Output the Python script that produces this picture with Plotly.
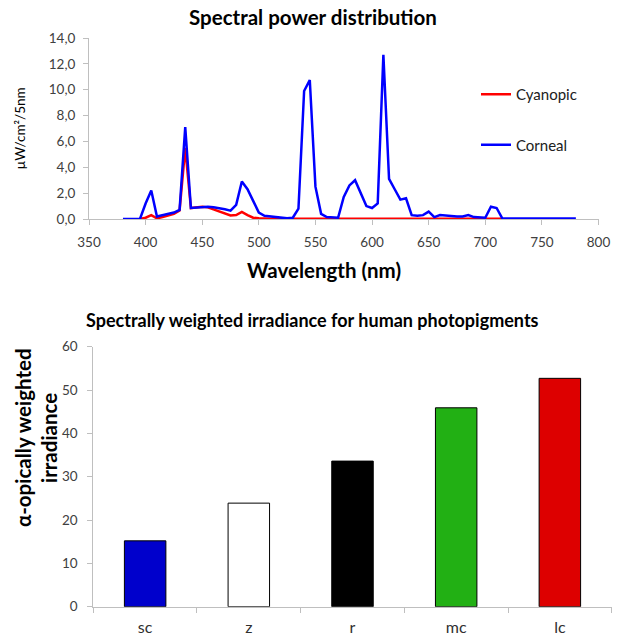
import plotly.graph_objects as go

# ---- Data ----
wavelength_corneal = list(range(380, 785, 5))
corneal = [0.0, 0.0, 0.0, 0.0, 1.2, 2.2, 0.2, 0.3, 0.35, 0.5, 0.7, 7.1,
           0.85, 0.9, 0.95, 0.95, 0.9, 0.85, 0.75, 0.65, 1.1, 2.9, 2.3, 1.4,
           0.5, 0.25, 0.2, 0.15, 0.1, 0.05, 0.1, 0.8, 9.9, 10.75, 2.5, 0.4,
           0.15, 0.1, 0.1, 1.7, 2.6, 3.0, 2.0, 1.0, 0.85, 1.2, 12.7, 3.1,
           2.3, 1.5, 1.6, 0.3, 0.25, 0.3, 0.57, 0.15, 0.3, 0.25, 0.2, 0.2,
           0.2, 0.3, 0.15, 0.1, 0.1, 0.95, 0.85, 0.05, 0.03, 0.03, 0.03, 0.03,
           0.03, 0.03, 0.03, 0.03, 0.03, 0.03, 0.03, 0.03, 0.03]
wavelength_cyanopic = list(range(395, 720, 5))
cyanopic = [0.0, 0.1, 0.3, 0.05, 0.15, 0.25, 0.4, 0.65, 5.5, 0.85, 0.9,
            0.95, 0.9, 0.75, 0.55, 0.4, 0.28, 0.3, 0.55, 0.3, 0.1, 0.05,
            0.02, 0.02, 0.02, 0.02, 0.02, 0.02, 0.02, 0.02, 0.02, 0.02, 0.02,
            0.02, 0.02, 0.02, 0.02, 0.02, 0.02, 0.02, 0.02, 0.02, 0.02, 0.02,
            0.02, 0.02, 0.02, 0.02, 0.02, 0.02, 0.02, 0.02, 0.02, 0.02, 0.02,
            0.02, 0.02, 0.02, 0.02, 0.02, 0.02, 0.02, 0.02, 0.02, 0.02]

pigments = ["sc", "z", "r", "mc", "lc"]
irradiance = [15.2, 23.9, 33.6, 45.9, 52.7]
bar_colors = ["#0000cc", "#ffffff", "#000000", "#22b014", "#dd0000"]

FONT = "Lato, 'Open Sans', sans-serif"
W, H = 622, 637

fig = go.Figure()

fig.add_trace(go.Scatter(x=wavelength_cyanopic, y=cyanopic, mode="lines",
                         name="Cyanopic", line=dict(color="#ff0000", width=2.5),
                         xaxis="x", yaxis="y", legendgroup="a"))
fig.add_trace(go.Scatter(x=wavelength_corneal, y=corneal, mode="lines",
                         name="Corneal", line=dict(color="#0000ff", width=2.5),
                         xaxis="x", yaxis="y", legendgroup="b"))
fig.add_trace(go.Bar(x=pigments, y=irradiance, marker=dict(color=bar_colors,
                     line=dict(color="#000000", width=1)),
                     width=0.4, showlegend=False, xaxis="x2", yaxis="y2"))

axis_gray = "#bfbfbf"
tickfont = dict(family=FONT, size=13.5, color="#404040")

fig.update_layout(
    width=W, height=H,
    margin=dict(l=0, r=0, t=0, b=0),
    paper_bgcolor="white", plot_bgcolor="white",
    separators=",.",
    font=dict(family=FONT, color="#000000"),
    xaxis=dict(domain=[89 / W, 598.5 / W], range=[350, 800], dtick=50,
               tick0=350, showgrid=False, zeroline=False, showline=True,
               linecolor=axis_gray, ticks="outside", ticklen=5,
               tickcolor=axis_gray, tickfont=tickfont, anchor="y",
               ticklabelstandoff=6, automargin=False),
    yaxis=dict(domain=[1 - 219 / H, 1 - 38 / H], range=[0, 14], dtick=2,
               tickformat=".1f", showgrid=False, zeroline=False,
               showline=True, linecolor=axis_gray, ticks="outside",
               ticklen=5, tickcolor=axis_gray, tickfont=tickfont, anchor="x",
               ticklabelstandoff=5, automargin=False,
               title=dict(text="µW/cm²/5nm", font=dict(family=FONT, size=13.5),
                          standoff=20)),
    xaxis2=dict(domain=[93.3 / W, 611.7 / W], showgrid=False, zeroline=False,
                showline=True, linecolor=axis_gray, ticks="outside",
                ticklen=5, tickcolor=axis_gray, tickson="boundaries",
                tickfont=dict(family=FONT, size=16, color="#303030"),
                ticklabelstandoff=6, automargin=False, anchor="y2"),
    yaxis2=dict(domain=[1 - 606.7 / H, 1 - 346.7 / H], range=[0, 60], dtick=10,
                showgrid=False, zeroline=False, showline=True,
                linecolor=axis_gray, ticks="outside", ticklen=5,
                tickcolor=axis_gray, tickfont=tickfont, anchor="x2",
                ticklabelstandoff=7, automargin=False),
    legend=dict(x=476 / W, y=1 - 78 / H, xanchor="left", yanchor="top",
                tracegroupgap=28, font=dict(family=FONT, size=15, color="#202020"),
                bgcolor="rgba(0,0,0,0)", itemwidth=30),
    annotations=[
        dict(text="<b>Spectral power distribution</b>", x=313 / W, y=1 - 17 / H,
             xref="paper", yref="paper", xanchor="center", yanchor="middle",
             showarrow=False, font=dict(family=FONT, size=20.5)),
        dict(text="<b>Wavelength (nm)</b>", x=324 / W, y=1 - 270 / H,
             xref="paper", yref="paper", xanchor="center", yanchor="middle",
             showarrow=False, font=dict(family=FONT, size=20.5)),
        dict(text="<b>Spectrally weighted irradiance for human photopigments</b>",
             x=312 / W, y=1 - 320 / H, xref="paper", yref="paper",
             xanchor="center", yanchor="middle",
             showarrow=False, font=dict(family=FONT, size=18)),
        dict(text="<b>α-opically weighted</b>", x=23 / W, y=1 - 438 / H,
             xref="paper", yref="paper", xanchor="center", yanchor="middle",
             textangle=-90, showarrow=False, font=dict(family=FONT, size=20.5)),
        dict(text="<b>irradiance</b>", x=49 / W, y=1 - 438 / H,
             xref="paper", yref="paper", xanchor="center", yanchor="middle",
             textangle=-90, showarrow=False, font=dict(family=FONT, size=20.5)),
    ],
)

fig.write_html("out.html", config={"displayModeBar": False},
               post_script="document.body.style.margin='0';")
